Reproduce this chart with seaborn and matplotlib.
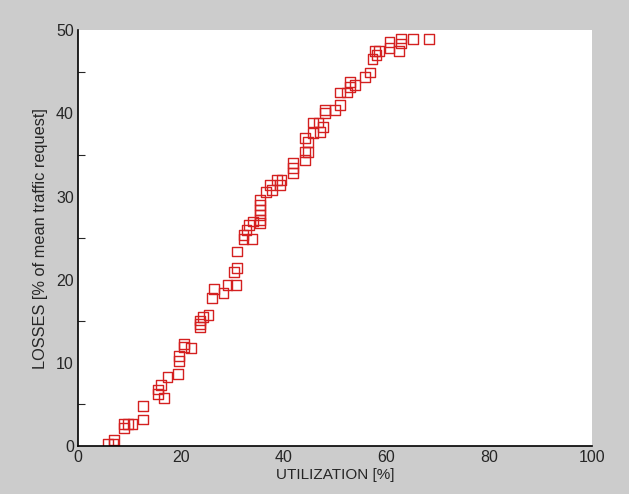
# Losses vs utilization scatter
import numpy as np
import pandas as pd
import matplotlib
matplotlib.use('Agg')
import matplotlib.pyplot as plt
import seaborn as sns
from matplotlib.ticker import MultipleLocator

# Data
utilization = [5.8, 7.0, 6.9, 8.9, 8.9, 9.8, 10.6, 12.6, 12.6,
               15.6, 15.6, 16.1, 16.8, 17.4, 19.5, 19.7, 19.7, 20.6, 20.6, 22.0,
               23.7, 23.7, 23.7, 24.4, 25.4, 26.0, 26.5, 28.3, 29.1, 30.7,
               30.4, 30.9, 30.9, 32.2, 33.8, 32.2, 32.8, 33.3, 34.1, 35.4,
               35.4, 35.4, 35.4, 35.4, 35.4, 36.6, 37.4, 37.7, 38.7, 39.6, 39.3,
               41.8, 41.8, 41.9, 44.2, 44.2, 44.8, 44.2, 44.8, 45.8, 45.8, 46.8,
               47.1, 47.7, 48.1, 48.1, 50.0, 51.0, 51.0, 52.3, 52.9, 53.9, 52.9,
               55.8, 56.8, 57.3, 58.1, 57.8, 58.6, 60.6, 60.6, 62.5, 62.8, 62.8,
               65.2, 68.3]
losses = [0.3, 0.7, 0.3, 2.7, 2.2, 2.7, 2.7, 3.2, 4.8,
          6.8, 6.25, 7.3, 5.8, 8.3, 8.7, 10.8, 10.2, 12.3, 11.9, 11.8,
          14.3, 15.1, 14.7, 15.5, 15.8, 17.8, 18.9, 18.4, 19.4, 19.4,
          20.9, 21.4, 23.4, 24.9, 24.9, 25.4, 26.0, 26.6, 27.0, 26.8,
          29.6, 29.0, 28.4, 27.8, 27.2, 30.5, 31.4, 30.8, 32.0, 32.0, 31.4,
          32.8, 34.0, 33.4, 34.4, 35.4, 35.4, 37.0, 36.6, 37.6, 38.9, 38.9,
          37.8, 38.4, 40.4, 40.0, 40.4, 41.0, 42.5, 42.5, 43.2, 43.4, 43.8,
          44.4, 44.9, 46.5, 47.0, 47.5, 47.5, 47.9, 48.6, 47.5, 48.4, 49.0,
          48.9, 48.9]

df = pd.DataFrame({'utilization': utilization, 'losses': losses})

sns.set_style('white')
plt.rcParams['font.family'] = ['Liberation Sans', 'DejaVu Sans']

fig = plt.figure(figsize=(6.29, 4.94), dpi=100, facecolor='#cccccc')
ax = fig.add_axes([0.124, 0.097, 0.817, 0.842])
ax.set_facecolor('white')

sns.scatterplot(data=df, x='utilization', y='losses', ax=ax, marker='s', s=50,
                facecolors='none', edgecolor='#d42020', linewidth=1.0)

ax.set_xlim(0, 100)
ax.set_ylim(0, 50)
ax.set_xticks(range(0, 101, 20))
ax.set_yticks(range(0, 51, 10))
ax.yaxis.set_minor_locator(MultipleLocator(5))
ax.set_xlabel('UTILIZATION [%]', fontsize=11, color='#262626', labelpad=2)
ax.set_ylabel('LOSSES [% of mean traffic request]', fontsize=11.8, color='#262626', labelpad=6)
ax.tick_params(direction='in', length=5, width=0.8, labelsize=11.5, colors='black',
               labelcolor='#262626', pad=3)
ax.tick_params(axis='y', which='minor', direction='in', length=5, width=0.8, left=True)

for side in ['top', 'right']:
    ax.spines[side].set_visible(False)
for side in ['left', 'bottom']:
    ax.spines[side].set_color('black')
    ax.spines[side].set_linewidth(1.2)

fig.savefig('out.png', dpi=100, facecolor=fig.get_facecolor())
